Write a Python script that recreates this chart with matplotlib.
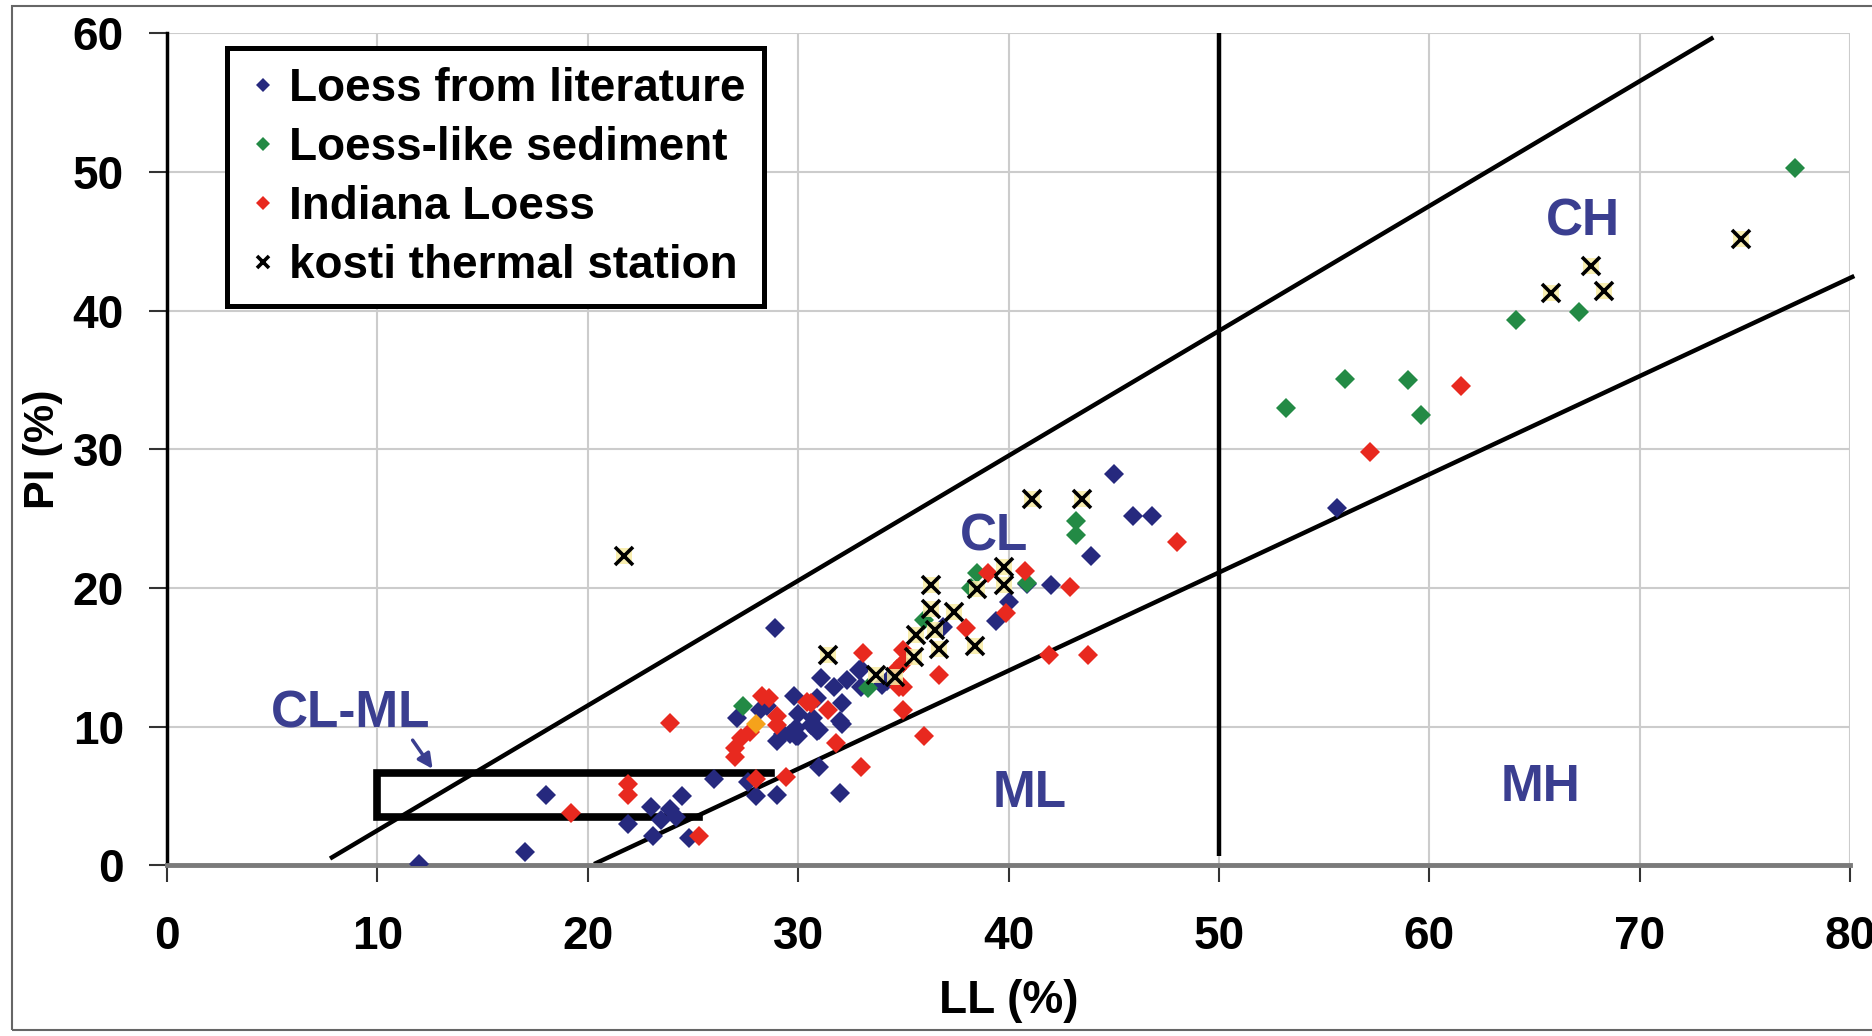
import matplotlib
matplotlib.use("Agg")
import matplotlib.pyplot as plt
from matplotlib.patches import Rectangle

plt.rcParams["font.family"] = ["Liberation Sans", "DejaVu Sans"]
plt.rcParams["font.weight"] = "bold"

# --- data (LL %, PI %) ---
lit_ll = [12.0, 17.0, 18.0, 21.9, 23.0, 23.1, 23.9, 24.5, 24.2, 23.5, 24.8, 26.0, 28.0, 29.0,
          28.9, 27.1, 28.2, 28.5, 29.8, 30.0, 30.6, 29.9, 29.0, 30.9, 31.1, 31.7, 32.3, 32.9,
          33.0, 30.9, 32.1, 32.0, 30.7, 29.9, 32.1, 29.3, 30.0, 31.0, 31.0, 32.0, 29.6, 27.6,
          33.0, 34.0, 34.2, 36.9, 39.4, 40.0, 40.9, 42.0, 43.9, 45.0, 45.9, 46.8, 55.6]
lit_pi = [0.1, 1.0, 5.1, 3.0, 4.2, 2.1, 4.1, 5.0, 3.5, 3.3, 2.0, 6.2, 5.0, 5.1,
          17.1, 10.6, 11.2, 11.5, 12.2, 10.9, 10.1, 9.3, 9.0, 9.7, 13.5, 12.9, 13.4, 14.1,
          12.9, 12.1, 11.7, 10.4, 10.6, 9.9, 10.2, 9.5, 9.3, 9.8, 7.1, 5.2, 9.5, 6.0,
          14.2, 13.0, 13.3, 17.2, 17.6, 19.0, 20.3, 20.2, 22.3, 28.2, 25.2, 25.2, 25.8]

like_ll = [27.4, 33.3, 36.0, 38.2, 38.5, 40.9, 43.2, 43.2, 53.2, 56.0, 59.0, 59.6, 64.1, 67.1, 77.4]
like_pi = [11.5, 12.8, 17.7, 20.0, 21.1, 20.4, 24.8, 23.8, 33.0, 35.1, 35.0, 32.5, 39.3, 39.9, 50.3]

ind_ll = [19.2, 21.9, 21.9, 25.3, 23.9, 27.0, 27.0, 27.3, 27.7, 28.0, 28.3, 28.6, 29.0, 29.0,
          29.4, 30.4, 30.6, 31.4, 31.8, 33.0, 33.1, 35.0, 35.0, 35.0, 34.7, 34.8, 35.0, 36.0,
          36.7, 38.0, 39.0, 39.9, 40.8, 42.9, 41.9, 43.8, 48.0, 57.2, 61.5]
ind_pi = [3.8, 5.9, 5.1, 2.1, 10.3, 8.5, 7.8, 9.2, 9.6, 6.2, 12.2, 12.1, 10.8, 10.1,
          6.4, 11.8, 11.7, 11.2, 8.8, 7.1, 15.3, 15.5, 14.6, 12.9, 14.2, 12.9, 11.2, 9.3,
          13.7, 17.1, 21.1, 18.2, 21.2, 20.1, 15.2, 15.2, 23.3, 29.8, 34.6]

kosti_ll = [21.7, 31.4, 33.7, 34.6, 35.5, 35.6, 36.3, 36.3, 36.5, 36.7, 37.4, 38.4, 38.5,
            39.8, 39.8, 41.1, 43.5, 65.8, 67.7, 68.3, 74.8]
kosti_pi = [22.3, 15.2, 13.7, 13.6, 15.0, 16.6, 18.5, 20.2, 17.0, 15.6, 18.3, 15.8, 19.9,
            21.5, 20.2, 26.4, 26.4, 41.3, 43.2, 41.4, 45.2]

other_ll = [28.0]
other_pi = [10.2]

# boundary lines of the plasticity chart
u_ll = [7.75, 73.5]
u_pi = [0.5, 59.7]
a_ll = [20.3, 80.2]
a_pi = [0.1, 42.5]
v_ll = [50, 50]
v_pi = [0.7, 60]
box_ll = [28.7, 10, 10, 25.3]
box_pi = [6.7, 6.7, 3.5, 3.5]

zone_names = ["CL-ML", "CL", "CH", "ML", "MH"]
zone_ll = [8.75, 39.3, 67.3, 41.0, 65.3]
zone_pi = [10.9, 23.7, 46.4, 5.2, 5.6]

navy = "#26297e"
green = "#238a45"
red = "#e8291f"
label_col = "#3a3e90"

fig = plt.figure(figsize=(18.72, 10.36), dpi=100)
ax = fig.add_axes([0.0892, 0.1646, 0.8991, 0.8033])

# frame around the whole picture
fig.patches.append(Rectangle((12 / 1872, 6 / 1036), 1.0, 1024 / 1036, transform=fig.transFigure,
                             fill=False, edgecolor="#666666", lw=1.5))

ax.plot(u_ll, u_pi, color="black", lw=3.2, solid_capstyle="butt", zorder=2)
ax.plot(a_ll, a_pi, color="black", lw=3.2, solid_capstyle="butt", zorder=2, clip_on=False)
ax.plot(v_ll, v_pi, color="black", lw=3.2, solid_capstyle="butt", zorder=2)
ax.plot(box_ll, box_pi, color="black", lw=5.5, solid_joinstyle="miter", zorder=2)

ms = 10.5
ax.plot(lit_ll, lit_pi, "D", color=navy, ms=ms, mew=0, ls="none", zorder=3, label="Loess from literature")
ax.plot(like_ll, like_pi, "D", color=green, ms=ms, mew=0, ls="none", zorder=3, label="Loess-like sediment")
ax.plot(ind_ll, ind_pi, "D", color=red, ms=ms, mew=0, ls="none", zorder=3, label="Indiana Loess")
ax.plot(other_ll, other_pi, "D", color="#f5a21b", ms=ms, mew=0, ls="none", zorder=3)
ax.plot(kosti_ll, kosti_pi, "s", color="#f7eca4", ms=11, mew=0, ls="none", zorder=4, alpha=0.85)
ax.plot(kosti_ll, kosti_pi, "x", color="black", ms=12.5, mew=2.6, ls="none", zorder=5, label="kosti thermal station")

for name, x, y in zip(zone_names, zone_ll, zone_pi):
    ax.text(x, y, name, color=label_col, fontsize=37, fontweight="bold", ha="center", va="center", zorder=6)
ax.annotate("", xy=(12.7, 6.8), xytext=(11.6, 9.2),
            arrowprops=dict(arrowstyle="-|>", color=label_col, lw=2.5, mutation_scale=22), zorder=6)

ax.set_xlim(0, 80)
ax.set_ylim(0, 60)
ax.set_xticks(range(0, 81, 10))
ax.set_yticks(range(0, 61, 10))
ax.grid(True, color="#cccccc", lw=1.5)
ax.set_axisbelow(True)
for s in ["top", "right"]:
    ax.spines[s].set_visible(False)
ax.spines["left"].set_color("black")
ax.spines["left"].set_linewidth(2.5)
ax.spines["bottom"].set_color("#7a7a7a")
ax.spines["bottom"].set_linewidth(3.5)
ax.tick_params(axis="x", length=12, width=1.5, pad=24, labelsize=33, color="#333333")
ax.tick_params(axis="y", length=13, width=1.5, pad=18, labelsize=33, color="#333333")
for lab in ax.get_xticklabels() + ax.get_yticklabels():
    lab.set_fontweight("bold")

ax.set_xlabel("LL (%)", fontsize=33, fontweight="bold", labelpad=0)
ax.xaxis.set_label_coords(0.5, -0.137)
ax.set_ylabel("PI (%)", fontsize=31, fontweight="bold")
ax.yaxis.set_label_coords(-0.062, 0.5)

leg = ax.legend(loc="upper left", bbox_to_anchor=(0.0357, 0.982), fontsize=33, frameon=True,
                fancybox=False, borderpad=0.4, handlelength=0.75, handletextpad=0.2,
                labelspacing=0.33, borderaxespad=0, markerscale=0.65)
leg.get_frame().set_edgecolor("black")
leg.get_frame().set_linewidth(3.6)
leg.get_frame().set_alpha(1)
for t in leg.get_texts():
    t.set_fontweight("bold")

fig.savefig("out.png", dpi=100)
